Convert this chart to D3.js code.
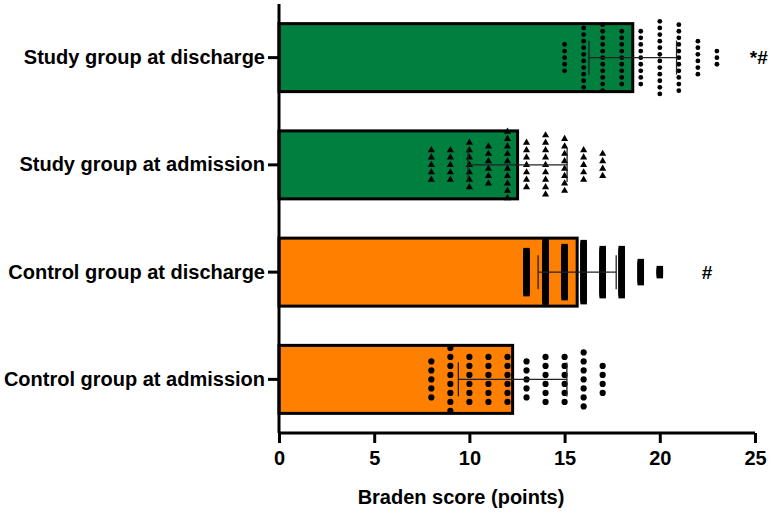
<!DOCTYPE html>
<html>
<head>
<meta charset="utf-8">
<script src="https://cdn.jsdelivr.net/npm/d3@7"></script>
<style>
  body { margin: 0; background: #fff; }
  svg { display: block; font-family: "Liberation Sans", Arial, sans-serif; }
</style>
</head>
<body>
<div id="chart"></div>
<script>
// groups, top to bottom
const groups = [
  'Study group at discharge',
  'Study group at admission',
  'Control group at discharge',
  'Control group at admission'
];
const means = [18.58, 12.53, 15.66, 12.27];
const sds = [2.3, 2.6, 2.05, 2.85];
const notes = ['*#', '', '#', ''];
const notePos = [25.2, 0, 22.48, 0];
const xTicks = [0, 5, 10, 15, 20, 25];

// individual scores: value and how many patients had it
const studyDischargeScores = [15, 16, 17, 18, 19, 20, 21, 22, 23];
const studyDischargeCounts = [5, 10, 11, 9, 9, 12, 11, 6, 3];
const studyAdmissionScores = [8, 9, 10, 11, 12, 13, 14, 15, 16, 17];
const studyAdmissionCounts = [5, 5, 7, 6, 10, 7, 9, 8, 5, 4];
const controlDischargeScores = [13, 14, 15, 16, 17, 18, 19, 20];
const controlDischargeCounts = [22, 31, 26, 30, 24, 24, 11, 4];
const controlAdmissionScores = [8, 9, 10, 11, 12, 13, 14, 15, 16, 17];
const controlAdmissionCounts = [5, 8, 6, 6, 6, 5, 6, 6, 7, 4];

const scoreSets = [
  [studyDischargeScores, studyDischargeCounts],
  [studyAdmissionScores, studyAdmissionCounts],
  [controlDischargeScores, controlDischargeCounts],
  [controlAdmissionScores, controlAdmissionCounts]
];

const barColors = ['#017f3f', '#017f3f', '#ff8000', '#ff8000'];
// marker look for each group
const markers = [
  { shape: 'circle', r: 2.4, gap: 6.6 },
  { shape: 'triangle', size: 22, gap: 7.4 },
  { shape: 'square', w: 6.5, gap: 2 },
  { shape: 'circle', r: 3.1, gap: 9 }
];

const W = 772, H = 515;
const margin = { top: 4, right: 17, bottom: 82, left: 279 };
const width = W - margin.left - margin.right;
const height = H - margin.top - margin.bottom;
const fontSize = 20;

const svg = d3.select('#chart').append('svg')
  .attr('width', W).attr('height', H);

const g = svg.append('g')
  .attr('transform', `translate(${margin.left},${margin.top})`);

const x = d3.scaleLinear().domain([0, 25]).range([0, width]);
const y = d3.scaleBand().domain(groups).range([0, height])
  .paddingInner(0.366).paddingOuter(0.183);

// bars
g.selectAll('rect.bar')
  .data(groups)
  .join('rect')
  .attr('class', 'bar')
  .attr('x', x(0))
  .attr('y', d => y(d))
  .attr('width', (d, i) => x(means[i]) - x(0))
  .attr('height', y.bandwidth())
  .attr('fill', (d, i) => barColors[i])
  .attr('stroke', '#000')
  .attr('stroke-width', 3);

// dots
groups.forEach((grp, gi) => {
  const cy = y(grp) + y.bandwidth() / 2;
  const [scores, counts] = scoreSets[gi];
  const m = markers[gi];
  const pts = [];
  scores.forEach((s, k) => {
    const n = counts[k];
    for (let i = 0; i < n; i++) {
      pts.push({ v: s, dy: (i - (n - 1) / 2) * m.gap });
    }
  });
  const layer = g.append('g').attr('class', 'dots');
  if (m.shape === 'circle') {
    layer.selectAll('circle').data(pts).join('circle')
      .attr('cx', d => x(d.v)).attr('cy', d => cy + d.dy)
      .attr('r', m.r).attr('fill', '#000');
  } else if (m.shape === 'square') {
    layer.selectAll('rect').data(pts).join('rect')
      .attr('x', d => x(d.v) - m.w / 2).attr('y', d => cy + d.dy - m.w / 2)
      .attr('width', m.w).attr('height', m.w).attr('fill', '#000');
  } else {
    const tri = d3.symbol().type(d3.symbolTriangle).size(m.size);
    layer.selectAll('path').data(pts).join('path')
      .attr('d', tri)
      .attr('transform', d => `translate(${x(d.v)},${cy + d.dy})`)
      .attr('fill', '#000');
  }
});

// mean +/- SD
const capH = 34;
groups.forEach((grp, gi) => {
  const cy = y(grp) + y.bandwidth() / 2;
  const lo = x(means[gi] - sds[gi]), hi = x(means[gi] + sds[gi]);
  const eb = g.append('g').attr('stroke', '#222').attr('stroke-width', 1.3);
  eb.append('line').attr('x1', lo).attr('x2', hi).attr('y1', cy).attr('y2', cy);
  eb.append('line').attr('x1', lo).attr('x2', lo).attr('y1', cy - capH / 2).attr('y2', cy + capH / 2);
  eb.append('line').attr('x1', hi).attr('x2', hi).attr('y1', cy - capH / 2).attr('y2', cy + capH / 2);
});

// significance marks
g.selectAll('text.note')
  .data(groups)
  .join('text')
  .attr('class', 'note')
  .attr('x', (d, i) => x(notePos[i]))
  .attr('y', d => y(d) + y.bandwidth() / 2)
  .attr('dy', '0.35em')
  .attr('text-anchor', 'middle')
  .attr('font-size', 19)
  .attr('font-weight', 'bold')
  .text((d, i) => notes[i]);

// axes
const xAxis = g.append('g')
  .attr('transform', `translate(0,${height})`)
  .call(d3.axisBottom(x).tickValues(xTicks).tickSize(10).tickPadding(8));

const yAxis = g.append('g')
  .call(d3.axisLeft(y).tickSize(11).tickPadding(3));

[xAxis, yAxis].forEach(a => {
  a.select('.domain').attr('stroke', '#000').attr('stroke-width', 3);
  a.selectAll('.tick line').attr('stroke', '#000').attr('stroke-width', 3);
  a.selectAll('.tick text')
    .attr('fill', '#000')
    .attr('font-size', fontSize)
    .attr('font-weight', 'bold')
    .attr('font-family', '"Liberation Sans", Arial, sans-serif');
});
xAxis.select('.domain').attr('d', `M0,0H${width}`);
yAxis.select('.domain').attr('d', `M0,0V${height}`);

// axis title
svg.append('text')
  .attr('x', 461)
  .attr('y', 497)
  .attr('dy', '0.35em')
  .attr('text-anchor', 'middle')
  .attr('font-size', fontSize)
  .attr('font-weight', 'bold')
  .text('Braden score (points)');
</script>
</body>
</html>
